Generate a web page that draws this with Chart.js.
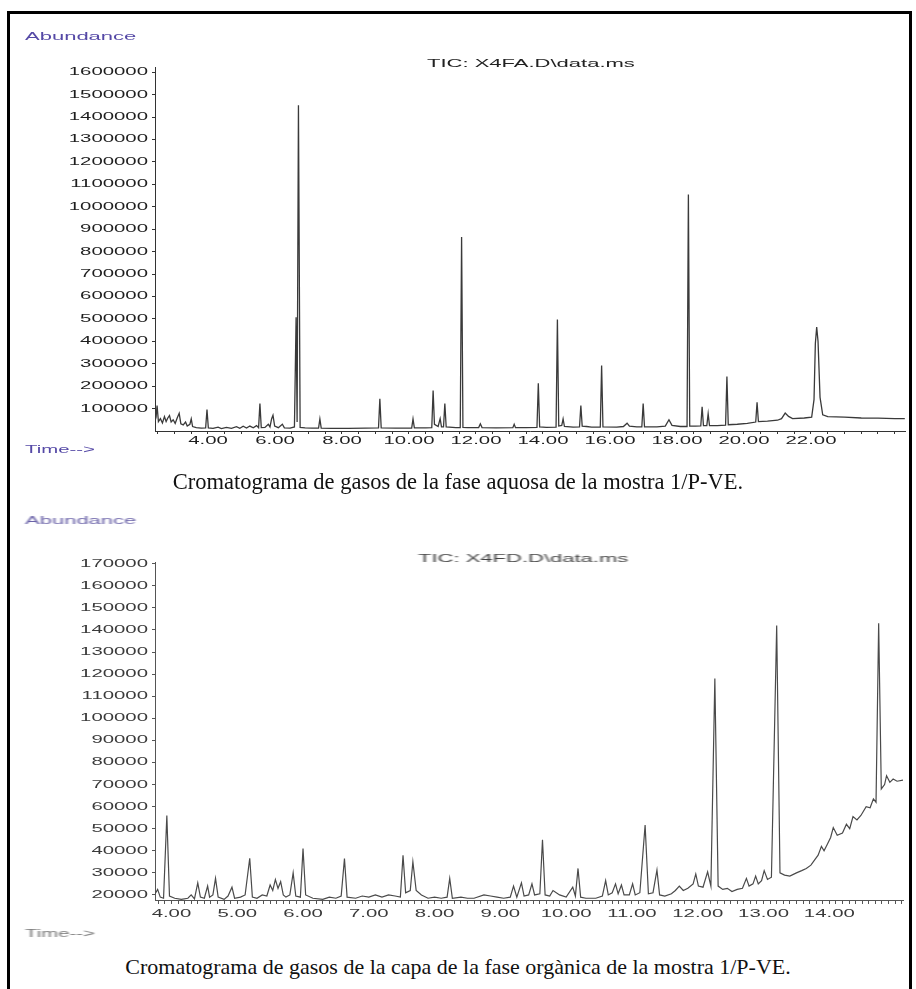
<!DOCTYPE html>
<html>
<head>
<meta charset="utf-8">
<script src="https://cdn.jsdelivr.net/npm/chart.js@4.4.1/dist/chart.umd.min.js"></script>
<style>
  html, body { margin: 0; padding: 0; background: #fff; }
  body { width: 916px; height: 989px; position: relative; overflow: hidden; }
  #frame { position: absolute; left: 7px; top: 11px; width: 899px; height: 1000px; border: 3px solid #000; }
  canvas { position: absolute; left: 0; }
  .lbl { position: absolute; font-family: "Liberation Sans", Arial, sans-serif; font-size: 11px; line-height: 11px;
         white-space: nowrap; transform: scaleX(2); transform-origin: 0 50%; }
  .axisname { color: #5549a6; }
  .soft { filter: blur(0.5px); }
  .cap { position: absolute; left: 0; width: 916px; text-align: center; font-family: "Liberation Serif", "Times New Roman", serif;
         font-size: 22.5px; line-height: 24px; color: #111; }
</style>
</head>
<body>
<div id="frame"></div>
<canvas id="aquosa" width="916" height="470" style="top:0px"></canvas>
<canvas id="organica" class="soft" width="916" height="460" style="top:480px"></canvas>

<div class="lbl axisname" style="left:25px;top:31px">Abundance</div>
<div class="lbl" style="left:427px;top:58px;color:#222">TIC: X4FA.D\data.ms</div>
<div class="lbl axisname" style="left:25px;top:444px;transform:scaleX(1.85)">Time--&gt;</div>
<div class="cap" style="top:470px">Cromatograma de gasos de la fase aquosa de la mostra 1/P-VE.</div>

<div class="lbl axisname soft" style="left:25px;top:515px;color:#6a62a8">Abundance</div>
<div class="lbl soft" style="left:418px;top:553px;color:#444">TIC: X4FD.D\data.ms</div>
<div class="lbl soft" style="left:25px;top:928px;color:#777;transform:scaleX(1.85)">Time--&gt;</div>
<div class="cap" style="top:955px;font-size:22px">Cromatograma de gasos de la capa de la fase orgànica de la mostra 1/P-VE.</div>

<script>
// ---- Aqueous phase TIC (X4FA.D) : retention time (min) / abundance ----
const timeAq = [
  2.42, 2.45, 2.48, 2.52, 2.58, 2.64, 2.70, 2.75, 2.80, 2.85, 2.90, 2.96, 3.02, 3.08, 3.14, 3.19,
  3.26, 3.33, 3.38, 3.46, 3.50, 3.54, 3.65, 3.80, 3.93, 3.97, 4.01, 4.15, 4.30, 4.40, 4.55, 4.70,
  4.85, 4.95, 5.05, 5.15, 5.25, 5.35, 5.45, 5.51, 5.55, 5.59, 5.70, 5.80, 5.85, 5.90, 5.94, 5.99,
  6.10, 6.22, 6.28, 6.45, 6.58, 6.63, 6.66, 6.70, 6.75, 6.90, 7.10, 7.30, 7.34, 7.38, 7.70, 8.20,
  8.70, 9.09, 9.13, 9.17, 9.60, 10.08, 10.12, 10.16, 10.50, 10.68, 10.72, 10.76, 10.87, 10.93, 10.97, 11.03,
  11.07, 11.11, 11.40, 11.53, 11.57, 11.61, 11.75, 12.08, 12.13, 12.18, 12.60, 13.10, 13.14, 13.18, 13.50, 13.82,
  13.86, 13.90, 14.10, 14.39, 14.43, 14.47, 14.56, 14.60, 14.64, 14.90, 15.09, 15.13, 15.17, 15.30, 15.45, 15.71,
  15.75, 15.79, 16.20, 16.40, 16.51, 16.58, 16.80, 16.95, 16.99, 17.03, 17.40, 17.65, 17.76, 17.85, 18.10, 18.30,
  18.34, 18.38, 18.55, 18.71, 18.75, 18.79, 18.89, 18.93, 18.97, 19.20, 19.45, 19.49, 19.53, 19.80, 20.10, 20.35,
  20.39, 20.43, 20.70, 21.00, 21.12, 21.23, 21.33, 21.45, 21.80, 22.02, 22.09, 22.13, 22.17, 22.21, 22.27, 22.35,
  22.50, 23.00, 23.50, 24.00, 24.50, 24.80
];
const abundAq = [
  45000, 62000, 113000, 42000, 55000, 36000, 64000, 42000, 58000, 69000, 40000, 50000, 34000, 58000, 79000, 32000,
  27000, 40000, 22000, 30000, 54000, 20000, 15000, 13000, 14000, 96000, 14000, 12000, 17000, 11000, 16000, 12000,
  19000, 12000, 21000, 13000, 22000, 14000, 24000, 15000, 122000, 15000, 16000, 30000, 18000, 55000, 70000, 22000,
  15000, 30000, 14000, 13000, 18000, 507000, 40000, 1452000, 16000, 14000, 13000, 13000, 54000, 13000, 12000, 12000,
  13000, 14000, 144000, 14000, 13000, 13000, 54000, 14000, 14000, 15000, 180000, 30000, 20000, 55000, 18000, 18000,
  122000, 18000, 15000, 15000, 865000, 16000, 15000, 15000, 32000, 15000, 14000, 15000, 30000, 15000, 15000, 16000,
  213000, 18000, 16000, 17000, 497000, 22000, 25000, 54000, 20000, 17000, 18000, 113000, 22000, 20000, 17000, 17000,
  292000, 18000, 17000, 20000, 35000, 22000, 18000, 18000, 122000, 19000, 18000, 22000, 50000, 25000, 20000, 20000,
  1055000, 22000, 22000, 23000, 108000, 24000, 24000, 77000, 24000, 24000, 26000, 243000, 28000, 30000, 34000, 40000,
  128000, 42000, 44000, 48000, 55000, 80000, 65000, 55000, 58000, 62000, 140000, 390000, 463000, 400000, 150000, 72000,
  64000, 62000, 58000, 57000, 55000, 55000
];
const yTicksAq = [100000, 200000, 300000, 400000, 500000, 600000, 700000, 800000,
  900000, 1000000, 1100000, 1200000, 1300000, 1400000, 1500000, 1600000];
const xLabelsAq = [4, 6, 8, 10, 12, 14, 16, 18, 20, 22];

// ---- Organic layer TIC (X4FD.D) : retention time (min) / abundance ----
const timeOrg = [
  3.75, 3.79, 3.83, 3.88, 3.93, 3.97, 4.05, 4.15, 4.25, 4.30, 4.35, 4.40, 4.44, 4.50, 4.55, 4.58,
  4.63, 4.67, 4.71, 4.80, 4.86, 4.92, 4.96, 5.05, 5.12, 5.19, 5.23, 5.30, 5.38, 5.45, 5.50, 5.54,
  5.58, 5.62, 5.66, 5.70, 5.74, 5.80, 5.85, 5.89, 5.96, 6.00, 6.04, 6.15, 6.30, 6.40, 6.50, 6.58,
  6.63, 6.67, 6.80, 6.90, 7.00, 7.10, 7.20, 7.30, 7.40, 7.48, 7.52, 7.56, 7.63, 7.67, 7.72, 7.80,
  7.90, 8.00, 8.10, 8.19, 8.23, 8.27, 8.40, 8.50, 8.60, 8.75, 8.85, 8.95, 9.05, 9.15, 9.20, 9.25,
  9.32, 9.36, 9.43, 9.48, 9.52, 9.60, 9.64, 9.68, 9.75, 9.80, 9.90, 10.00, 10.10, 10.14, 10.18, 10.22,
  10.30, 10.45, 10.55, 10.60, 10.64, 10.70, 10.75, 10.79, 10.84, 10.88, 10.96, 11.01, 11.05, 11.12, 11.20, 11.25,
  11.32, 11.38, 11.42, 11.50, 11.60, 11.66, 11.72, 11.78, 11.85, 11.93, 11.97, 12.01, 12.08, 12.15, 12.20, 12.26,
  12.31, 12.38, 12.45, 12.52, 12.60, 12.68, 12.74, 12.78, 12.84, 12.88, 12.92, 12.97, 13.01, 13.06, 13.12, 13.20,
  13.25, 13.32, 13.40, 13.50, 13.58, 13.65, 13.72, 13.78, 13.83, 13.88, 13.92, 13.97, 14.02, 14.06, 14.12, 14.20,
  14.26, 14.31, 14.36, 14.42, 14.48, 14.56, 14.62, 14.67, 14.71, 14.75, 14.79, 14.84, 14.87, 14.92, 14.97, 15.03,
  15.12
];
const abundOrg = [
  20500, 22500, 19000, 18500, 56000, 19500, 18500, 18000, 18500, 20000, 18200, 25500, 19000, 18500, 24000, 19000,
  20000, 27500, 19000, 18000, 19500, 23500, 18500, 19000, 20000, 36600, 19000, 18500, 20000, 19500, 24500, 22000,
  27000, 23000, 26000, 20000, 19000, 20000, 30000, 19500, 19000, 41000, 20000, 18500, 18000, 19000, 18500, 19500,
  36500, 19000, 18500, 19500, 19000, 20000, 19000, 20000, 19500, 19000, 38000, 21000, 22000, 35000, 22000, 20000,
  18500, 19000, 18500, 19000, 27500, 18500, 19000, 18500, 18500, 20000, 19500, 19000, 18500, 19000, 24000, 19000,
  25500, 19500, 20000, 25000, 20000, 20500, 45000, 20000, 19500, 22000, 20000, 19000, 23500, 19500, 32000, 19000,
  18500, 18500, 19500, 26500, 20000, 21000, 25000, 20500, 24500, 20000, 20000, 25000, 20000, 21000, 51700, 20500,
  21000, 31300, 20000, 19500, 20500, 22000, 24000, 22000, 23000, 25000, 29500, 24000, 23500, 30500, 24000, 118000,
  24000, 22500, 23000, 21500, 22500, 23000, 27500, 24000, 25000, 28500, 25000, 26500, 31000, 27000, 28000, 142000,
  30000, 29000, 28500, 30000, 31000, 32000, 33500, 36000, 38000, 42000, 40000, 43000, 46000, 50500, 47000, 48000,
  52000, 50000, 55500, 54000, 56000, 60000, 59500, 63500, 62000, 143000, 68000, 70000, 74000, 71000, 72500, 71500,
  72000
];
const yTicksOrg = [20000, 30000, 40000, 50000, 60000, 70000, 80000, 90000, 100000,
  110000, 120000, 130000, 140000, 150000, 160000, 170000];
const xLabelsOrg = [4, 5, 6, 7, 8, 9, 10, 11, 12, 13, 14];

// ChemStation-style lettering: every axis label is drawn horizontally stretched
// about its own anchor, so right/centre alignment is kept.
const wideLetters = {
  id: 'wideLetters',
  beforeDraw(chart, args, opts) {
    const ctx = chart.ctx;
    if (ctx.__wideLetters) return;
    const plain = ctx.fillText;
    ctx.fillText = function (text, x, y) {
      this.save();
      this.translate(x, y);
      this.scale(opts.stretch, 1);
      plain.call(this, text, 0, 0);
      this.restore();
    };
    ctx.__wideLetters = true;
  }
};

Chart.defaults.font.family = '"Liberation Sans", Arial, sans-serif';
Chart.defaults.font.size = 11;

function tic(canvasId, cfg) {
  const points = cfg.time.map((t, i) => ({ x: t, y: cfg.abund[i] }));
  const isLabel = v => cfg.xLabels.some(l => Math.abs(l - v) < 1e-6);
  return new Chart(document.getElementById(canvasId), {
    type: 'line',
    data: { datasets: [{
      data: points,
      borderColor: cfg.lineColor,
      borderWidth: cfg.lineWidth,
      pointRadius: 0,
      tension: 0,
      fill: false
    }] },
    options: {
      responsive: false,
      animation: false,
      events: [],
      layout: { padding: cfg.padding },
      plugins: { legend: { display: false }, tooltip: { enabled: false }, wideLetters: { stretch: cfg.stretch } },
      scales: {
        x: {
          type: 'linear',
          min: cfg.xMin, max: cfg.xMax,
          afterFit: s => { s.height = cfg.xAxisHeight; },
          border: { display: true, color: cfg.axisColor, width: 1 },
          grid: { display: true, drawOnChartArea: false, drawTicks: true, tickLength: cfg.xTickLen, color: cfg.axisColor },
          ticks: {
            stepSize: cfg.xStep, includeBounds: false, autoSkip: false, maxRotation: 0, minRotation: 0,
            maxTicksLimit: 1000, padding: cfg.xPad, color: cfg.textColor,
            callback: v => isLabel(v) ? v.toFixed(2) : ''
          }
        },
        y: {
          type: 'linear',
          min: cfg.yMin, max: cfg.yMax,
          afterFit: s => { s.width = cfg.yAxisWidth; },
          afterBuildTicks: s => { s.ticks = cfg.yTicks.map(v => ({ value: v })); },
          border: { display: true, color: cfg.axisColor, width: 1 },
          grid: { display: true, drawOnChartArea: false, drawTicks: true, tickLength: 3, color: cfg.axisColor },
          ticks: { padding: 4, color: cfg.textColor, callback: v => String(v) }
        }
      }
    },
    plugins: [wideLetters]
  });
}

tic('aquosa', {
  time: timeAq, abund: abundAq, yTicks: yTicksAq, xLabels: xLabelsAq,
  xMin: 2.418, xMax: 24.806, xStep: 0.5, yMin: 0, yMax: 1623000,
  padding: { top: 67, right: 11, left: 0, bottom: 0 },
  yAxisWidth: 155, xAxisHeight: 39, xTickLen: 3, xPad: 0,
  lineColor: '#3a3a3a', lineWidth: 1.3, axisColor: '#333', textColor: '#1e1e1e', stretch: 1.85
});

tic('organica', {
  time: timeOrg, abund: abundOrg, yTicks: yTicksOrg, xLabels: xLabelsOrg,
  xMin: 3.75, xMax: 15.12, xStep: 0.1, yMin: 17700, yMax: 170800,
  padding: { top: 82, right: 13, left: 0, bottom: 0 },
  yAxisWidth: 155, xAxisHeight: 40, xTickLen: 4, xPad: 3,
  lineColor: '#4a4a4a', lineWidth: 1.2, axisColor: '#555', textColor: '#3a3a3a', stretch: 1.85
});
</script>
</body>
</html>
